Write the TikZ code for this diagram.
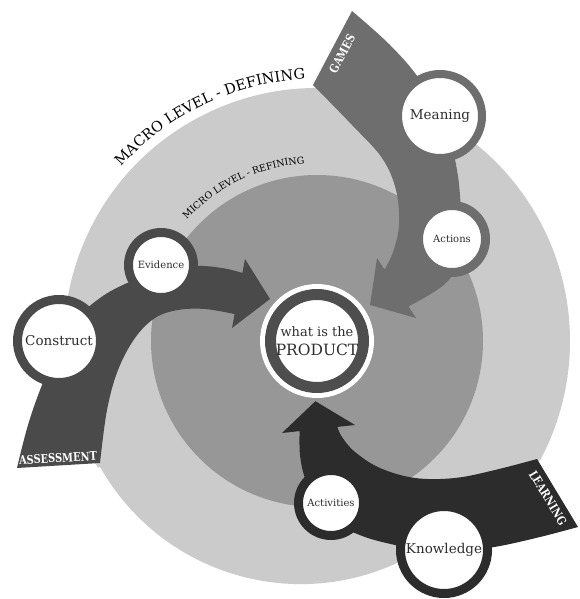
\documentclass[tikz,border=0pt]{standalone}
\usepackage{graphicx}
\usepackage{fontspec}
\setmainfont{DejaVu Serif}
\usetikzlibrary{decorations.text}
\definecolor{outerg}{HTML}{CBCBCB}
\definecolor{innerg}{HTML}{979797}
\definecolor{gamesc}{HTML}{6E6E6E}
\definecolor{assessc}{HTML}{4A4A4A}
\definecolor{learnc}{HTML}{2C2C2C}
\definecolor{prodc}{HTML}{4E4E4E}
\definecolor{inkc}{HTML}{2E2E2E}
\begin{document}
\begin{tikzpicture}[x=1pt,y=-1pt,
  ringbig/.style={circle, fill=white, inner sep=0pt, text=inkc, font=\fontsize{13.5}{15}\selectfont},
  ringsmall/.style={circle, fill=white, inner sep=0pt, text=inkc, font=\fontsize{10}{12}\selectfont},
  taillabel/.style={text=white, inner sep=0pt, font=\bfseries\fontsize{12}{13}\selectfont}]
\fill[white] (0,0) rectangle (580,599);
\useasboundingbox (0,0) rectangle (580,599);

% outer band: macro level (upper arc round the product, flatter lower arc)
\fill[outerg] (317,341) ++(150:253) arc[start angle=150, end angle=388, radius=253]
  -- (397,563)
  arc[start angle=65.3, end angle=150.5, radius=230.4] -- cycle;
% inner band: micro level
\fill[innerg] (317,341) circle[radius=166];

% curved level captions
\path[decorate, decoration={text along path, text align=center,
  text={|\fontsize{14.5}{16}\selectfont|MACRO LEVEL - DEFINING}}]
  (317,341) ++(200:262) arc[start angle=200, end angle=289, radius=262];
\path[decorate, decoration={text along path, text align=center,
  text={|\fontsize{9.5}{11}\selectfont|MICRO LEVEL - REFINING}}]
  (317,341) ++(200:178) arc[start angle=200, end angle=289, radius=178];

% GAMES arrow
\fill[gamesc] (313,85) -- (352,11)
  -- plot[smooth, tension=0.6] coordinates {(352,11) (390,45) (420,80) (445,125) (457,170) (461,215) (460,255) (446,283) (408.5,306.4)}
  -- (416,318) -- (370,305) -- (377,258) -- (384.5,269.6)
  -- plot[smooth, tension=0.6] coordinates {(384.5,269.6) (393,252) (399,225) (396,190) (382,158) (352,125) (313,85)}
  -- cycle;

% ASSESSMENT arrow
\fill[assessc] (100,463) -- (17,468)
  -- plot[smooth, tension=0.6] coordinates {(17,468) (28,425) (42,385) (58,350) (78,318) (100,298) (125,284) (160,271) (195,266) (222,268) (242.4,272.9)}
  -- (245,259) -- (270,299) -- (232,328) -- (234.6,314.1)
  -- plot[smooth, tension=0.6] coordinates {(234.6,314.1) (205,309) (178,310) (155,318) (135,338) (118,370) (107,410) (100,463)}
  -- cycle;

% LEARNING arrow
\fill[learnc] (578,527) -- (537,459)
  -- plot[smooth, tension=0.6] coordinates {(537,459) (495,470) (455,478) (415,478) (380,468) (355,452) (342,437) (337.4,426.9)}
  -- (355,425) -- (315.4,401.2) -- (282,433) -- (299.6,431.1)
  -- plot[smooth, tension=0.6] coordinates {(299.6,431.1) (300,455) (305,478) (318,505) (340,525) (365,537) (395,545) (430,552) (470,550) (500,546) (540,537) (578,527)}
  -- cycle;

% arrow tail captions
\node[taillabel, rotate=62] (games) at (342,54) {\scalebox{0.82}[1]{GAMES}};
\node[taillabel, rotate=3] (assess) at (58,458) {\scalebox{0.82}[1]{ASSESSMENT}};
\node[taillabel, rotate=-59] (learn) at (548,498) {\scalebox{0.82}[1]{LEARNING}};

% stations along the arrows
\node[ringbig, draw=gamesc, line width=8pt, minimum size=84pt] (meaning) at (440,116) {Meaning};
\node[ringsmall, draw=gamesc, line width=9pt, minimum size=67pt] (actions) at (452,239) {Actions};
\node[ringsmall, draw=assessc, line width=9pt, minimum size=65pt] (evidence) at (161,265) {Evidence};
\node[ringbig, draw=assessc, line width=9pt, minimum size=83pt] (construct) at (59,341) {Construct};
\node[ringsmall, draw=learnc, line width=9pt, minimum size=65pt] (activities) at (331,503) {Activities};
\node[ringbig, draw=learnc, line width=9pt, minimum size=87pt] (knowledge) at (444,550) {Knowledge};

% central product
\fill[white] (317,341) circle[radius=57];
\node[circle, fill=white, draw=prodc, line width=11pt, minimum size=93pt, inner sep=0pt,
  align=center, text=inkc, font=\fontsize{13}{19}\selectfont] (product) at (317,341)
  {what is the\\{\fontsize{15.5}{19}\selectfont PRODUCT}};
\end{tikzpicture}
\end{document}
